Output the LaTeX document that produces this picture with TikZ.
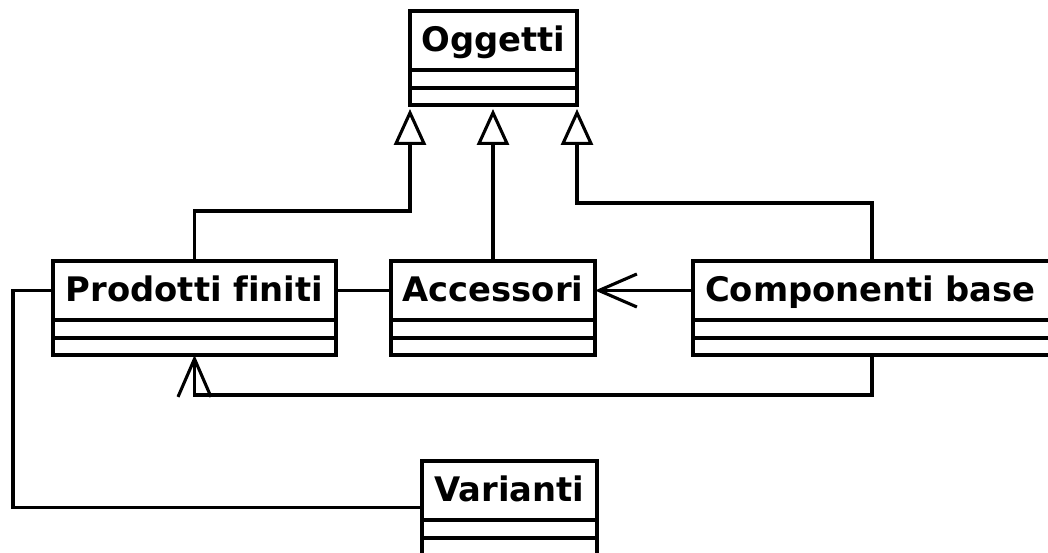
\documentclass[tikz,border=0pt]{standalone}
\usepackage{fontspec}
\setmainfont{DejaVu Sans}[Ligatures=NoCommon]
\usetikzlibrary{arrows.meta,calc}

\tikzset{
  uml/.style={line width=3.1pt, draw=black},
  classhead/.style={uml, anchor=north west, inner xsep=0pt, inner ysep=0pt, outer sep=0pt,
    minimum height=59pt, text height=27pt, text depth=5pt,
    font=\fontsize{33.8}{40}\selectfont\bfseries},
  gen/.style={uml, -{Triangle[open, length=36pt, width=32pt, fill=white]}, shorten >=4pt},
  nav/.style={uml, -{Straight Barb[length=38pt, width=33pt]}},
  plain/.style={uml}
}

% two empty compartments under a class header, plus handy bottom coordinates
\newcommand\classbody[1]{%
  \draw[uml] (#1.south west) rectangle ($(#1.south east)+(0,18)$);
  \draw[uml] ($(#1.south west)+(0,18)$) rectangle ($(#1.south east)+(0,35)$);
  \coordinate (#1-b)  at ($(#1.south)+(0,35)$);
  \coordinate (#1-bl) at ($(#1.south west)+(0,35)$);
  \coordinate (#1-br) at ($(#1.south east)+(0,35)$);
}

\begin{document}
\begin{tikzpicture}[x=1pt, y=-1pt]
\useasboundingbox (0,0) rectangle (1048,553);

% classes
\node[classhead, minimum width=167pt] (og) at (410,11) {Oggetti};
\classbody{og}
\node[classhead, minimum width=283pt] (pf) at (53,261) {Prodotti finiti};
\classbody{pf}
\node[classhead, minimum width=204pt] (acc) at (391,261) {Accessori};
\classbody{acc}
\node[classhead, inner xsep=12pt, text width=360pt, align=left] (cb) at (693,261) {Componenti base};
\classbody{cb}
\node[classhead, minimum width=175pt] (var) at (422,461) {Varianti};
\classbody{var}

% bend points and attachment points
\coordinate (cbT) at ($(cb.north west)+(179,0)$);
\coordinate (cbB) at ($(cb-bl)+(179,0)$);
\coordinate (g1) at (410,211);
\coordinate (g3) at (577,203);
\coordinate (varL) at ($(var.west)+(0,17)$);

% generalisations towards Oggetti
\draw[gen] (pf.north) |- (g1) -- (og-bl);
\draw[gen] (acc.north) -- (acc.north |- og-b);
\draw[gen] (cbT) |- (g3) -- (og-br);

% associations
\draw[plain] (pf.east) -- (acc.west);
\draw[nav] (cb.west) -- (acc.east);
\draw[nav] (cbB) -- ++(0,40) -| (pf-b);
\draw[plain] (pf.west) -- ++(-40,0) |- (varL);
\end{tikzpicture}
\end{document}
